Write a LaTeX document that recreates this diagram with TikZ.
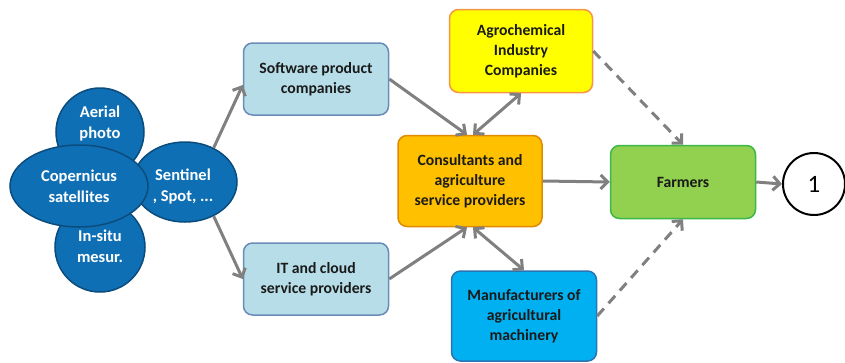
\documentclass[tikz,border=0pt]{standalone}
\usepackage{fontspec}
\setmainfont{Carlito}
\usetikzlibrary{arrows.meta,shapes.geometric}
\definecolor{blobfill}{HTML}{0F6FB4}
\definecolor{blobline}{HTML}{0B4C7D}
\definecolor{lbfill}{HTML}{B7DEE8}
\definecolor{lbline}{HTML}{6A8CB8}
\definecolor{yfill}{HTML}{FFFF00}
\definecolor{yline}{HTML}{F79646}
\definecolor{ofill}{HTML}{FFC000}
\definecolor{oline}{HTML}{E08A00}
\definecolor{mfill}{HTML}{00B0F0}
\definecolor{mline}{HTML}{2A74B4}
\definecolor{gfill}{HTML}{92D050}
\definecolor{gline}{HTML}{3CB846}
\definecolor{arr}{HTML}{808080}
\definecolor{txt}{HTML}{1A1A1A}
\tikzset{
  lbl/.style={font=\bfseries\fontsize{15.7bp}{20bp}\selectfont, align=center},
  blob/.style={draw=blobline, fill=blobfill, line width=1.5bp, inner sep=0pt},
  blobtxt/.style={align=center, font=\bfseries\fontsize{16.5bp}{21bp}\selectfont, text=white},
  box/.style={lbl, draw, rounded corners=9bp, line width=1.5bp, minimum width=145bp, minimum height=72bp, inner sep=0pt, text=txt},
  conn/.style={draw=arr, line width=3bp, -{Straight Barb[length=7bp,width=14bp]}},
  biconn/.style={conn, {Straight Barb[length=7bp,width=14bp]}-{Straight Barb[length=7bp,width=14bp]}},
  dconn/.style={conn, dash pattern=on 10bp off 7bp}
}
\begin{document}
\begin{tikzpicture}[x=1bp,y=-1bp]
\useasboundingbox (0,0) rectangle (845,362);
% blobs
\node[blob, circle, minimum size=88bp] (aer) at (100,132) {};
\node[blobtxt] (aert) at (100,124) {Aerial\\photo};
\node[blob, circle, minimum size=90bp] (ins) at (100,247) {};
\node[blobtxt] (inst) at (100,246) {In-situ\\mesur.};
\node[blob, ellipse, minimum width=104bp, minimum height=80bp] (sen) at (185,182) {};
\node[blobtxt] (sent) at (183,186) {Sentinel\\, Spot, ...};
\node[blob, ellipse, minimum width=138bp, minimum height=82bp, blobtxt] (cop) at (79,186) {Copernicus\\satellites};
% boxes
\node[box, fill=lbfill, draw=lbline] (soft) at (316,79) {Software product\\companies};
\node[box, fill=lbfill, draw=lbline] (it) at (316,279) {IT and cloud\\service providers};
\node[box, fill=yfill, draw=yline, minimum height=83bp, minimum width=143bp] (agro) at (521,51) {Agrochemical\\Industry\\Companies};
\node[box, fill=ofill, draw=oline, minimum height=91bp, minimum width=144bp] (cons) at (470,181) {Consultants and\\agriculture\\service providers};
\node[box, fill=mfill, draw=mline, minimum height=90bp] (manu) at (524,316) {Manufacturers of\\agricultural\\machinery};
\node[box, fill=gfill, draw=gline, minimum height=73bp] (farm) at (683,182) {Farmers};
\node[circle, draw=black, line width=2bp, minimum size=62bp, inner sep=0pt, font=\fontsize{25bp}{27bp}\selectfont] (one) at (814,184) {1};
% connectors
\draw[conn] (sen.50) -- ([yshift=-6bp]soft.west);
\draw[conn] (sen.-50) -- (it.west);
\draw[conn] (soft.east) -- ([xshift=-3bp]cons.north);
\draw[conn] (it.east) -- ([xshift=-3bp]cons.south);
\draw[biconn] ([xshift=3bp]cons.north) -- (agro.south);
\draw[biconn] ([xshift=3bp]cons.south) -- (manu.north);
\draw[conn] (cons.east) -- (farm.west);
\draw[dconn] (agro.east) -- (farm.north);
\draw[dconn] (manu.east) -- (farm.south);
\draw[conn] (farm.east) -- (one.west);
\end{tikzpicture}
\end{document}
